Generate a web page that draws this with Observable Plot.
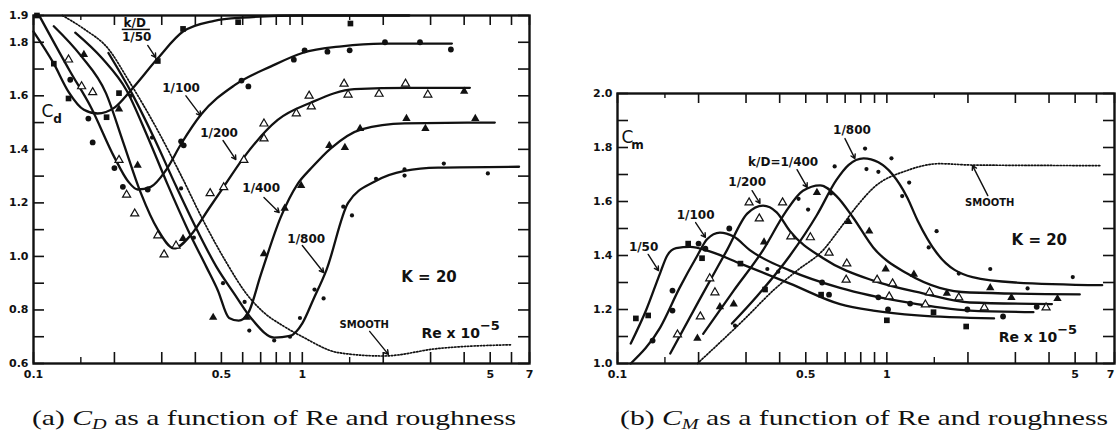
<!DOCTYPE html>
<html><head><meta charset="utf-8">
<script src="https://cdn.jsdelivr.net/npm/d3@7"></script>
<script src="https://cdn.jsdelivr.net/npm/@observablehq/plot@0.6"></script>
<style>
body{margin:0;background:#fff;}
#wrap{position:relative;width:1116px;height:437px;overflow:hidden;background:#fff;}
#a{position:absolute;left:0;top:0;}
#b{position:absolute;left:560px;top:0;}
.cap{position:absolute;top:405px;font-family:"Liberation Serif","DejaVu Serif",serif;font-size:22px;white-space:nowrap;color:#111;transform-origin:left top;}
.cap sub{font-size:15px;vertical-align:-4px;line-height:0;}
</style></head><body>
<div id="wrap"><div id="a"></div><div id="b"></div>
<div class="cap" id="capA">(a) <i>C</i><sub><i>D</i></sub> as a function of Re and roughness</div>
<div class="cap" id="capB">(b) <i>C</i><sub><i>M</i></sub> as a function of Re and roughness</div>
</div>
<script>
// ---------- shared tick lists ----------
const xTicksLong = [0.1,0.2,0.3,0.4,0.5,0.6,0.7,0.8,0.9,1,2,3,4,5,6,7];
const xTicksShort = [0.15,1.5];
const xTickLabels = [0.1,0.5,1,5];
const xEndLabel = [7];
const yTicksA = [0.6,0.7,0.8,0.9,1.0,1.1,1.2,1.3,1.4,1.5,1.6,1.7,1.8,1.9];
const yTickLabelsA = [0.6,0.8,1.0,1.2,1.4,1.6,1.8,1.9];
const yTicksB = [1.0,1.1,1.2,1.3,1.4,1.5,1.6,1.7,1.8,1.9,2.0];
const yTickLabelsB = [1.0,1.2,1.4,1.6,1.8,2.0];

// ---------- panel (a): Cd curves [Re x 1e-5, Cd] ----------
const cd50 = [[0.1,1.84],[0.119,1.72],[0.135,1.615],[0.154,1.548],[0.173,1.534],[0.2,1.556],[0.23,1.62],[0.29,1.74],[0.36,1.84],[0.47,1.88],[0.6,1.892],[1.0,1.9],[2.5,1.9]];
const cd100 = [[0.105,1.9],[0.137,1.69],[0.163,1.56],[0.2,1.37],[0.225,1.28],[0.244,1.25],[0.273,1.26],[0.31,1.32],[0.354,1.42],[0.42,1.53],[0.56,1.64],[0.765,1.71],[1.0,1.76],[1.4,1.785],[2.0,1.795],[3.6,1.795]];
const cd200 = [[0.119,1.86],[0.15,1.75],[0.186,1.61],[0.215,1.43],[0.25,1.24],[0.29,1.10],[0.333,1.03],[0.385,1.08],[0.45,1.18],[0.51,1.26],[0.606,1.37],[0.81,1.51],[1.08,1.575],[1.56,1.625],[2.5,1.63],[4.2,1.63]];
const cd400 = [[0.143,1.836],[0.18,1.74],[0.222,1.62],[0.265,1.45],[0.315,1.27],[0.375,1.10],[0.44,0.96],[0.485,0.873],[0.534,0.77],[0.58,0.76],[0.63,0.79],[0.70,0.93],[0.83,1.145],[0.96,1.27],[1.08,1.33],[1.28,1.405],[1.66,1.475],[2.4,1.497],[5.2,1.50]];
const cd800 = [[0.19,1.76],[0.232,1.61],[0.28,1.445],[0.34,1.26],[0.41,1.09],[0.48,0.96],[0.557,0.862],[0.65,0.765],[0.786,0.697],[0.9,0.703],[1.0,0.75],[1.1,0.84],[1.23,0.95],[1.48,1.2],[1.86,1.28],[2.4,1.32],[3.2,1.332],[6.4,1.335]];
const cdSmooth = [[0.128,1.9],[0.154,1.85],[0.19,1.775],[0.225,1.66],[0.29,1.47],[0.355,1.30],[0.43,1.13],[0.52,0.98],[0.62,0.86],[0.72,0.79],[0.85,0.74],[1.0,0.70],[1.37,0.64],[2.0,0.628],[3.2,0.656],[6.0,0.67]];

// Cd measured points
const cdPts50 = [[0.103,1.9],[0.119,1.72],[0.135,1.59],[0.187,1.52],[0.208,1.61],[0.29,1.73],[0.36,1.85],[0.577,1.875],[1.51,1.87]];
const cdPts100 = [[0.137,1.66],[0.16,1.515],[0.166,1.426],[0.2,1.33],[0.215,1.26],[0.266,1.25],[0.354,1.43],[0.362,1.415],[0.594,1.657],[0.63,1.635],[0.93,1.735],[1.02,1.77],[1.24,1.765],[1.5,1.77],[2.03,1.80],[2.74,1.80],[3.57,1.773]];
const cdPts200 = [[0.135,1.735],[0.151,1.635],[0.166,1.613],[0.208,1.36],[0.222,1.23],[0.238,1.16],[0.29,1.078],[0.306,1.007],[0.339,1.04],[0.454,1.236],[0.51,1.258],[0.606,1.36],[0.72,1.44],[0.72,1.496],[0.95,1.534],[1.08,1.56],[1.06,1.6],[1.43,1.645],[1.48,1.604],[1.93,1.607],[2.42,1.645],[2.93,1.604]];
const cdPts400 = [[0.154,1.754],[0.208,1.55],[0.244,1.34],[0.36,1.067],[0.466,0.772],[0.62,0.772],[0.72,1.01],[0.86,1.18],[0.99,1.265],[1.26,1.414],[1.44,1.407],[1.64,1.478],[2.44,1.515],[2.87,1.478],[4.4,1.515],[4.0,1.617]];
const cdPts800 = [[0.23,1.60],[0.276,1.444],[0.354,1.254],[0.395,1.07],[0.507,0.90],[0.61,0.83],[0.635,0.723],[0.786,0.686],[0.9,0.70],[0.98,0.77],[1.11,0.876],[1.2,0.843],[1.42,1.186],[1.53,1.153],[1.88,1.29],[2.4,1.325],[2.4,1.302],[3.36,1.347],[4.9,1.31]];

// ---------- panel (b): Cm curves ----------
const cm50 = [[0.112,1.074],[0.128,1.2],[0.144,1.335],[0.153,1.40],[0.165,1.427],[0.186,1.432],[0.22,1.415],[0.286,1.37],[0.437,1.296],[0.67,1.22],[0.89,1.196],[1.3,1.178],[2.5,1.167]];
const cm100 = [[0.112,1.0],[0.144,1.133],[0.17,1.28],[0.198,1.40],[0.215,1.46],[0.24,1.485],[0.27,1.47],[0.31,1.42],[0.437,1.344],[0.67,1.28],[1.19,1.226],[2.03,1.196],[3.5,1.19]];
const cm200 = [[0.157,1.037],[0.2,1.23],[0.255,1.42],[0.303,1.555],[0.347,1.585],[0.39,1.56],[0.437,1.49],[0.58,1.39],[0.89,1.307],[1.36,1.26],[2.03,1.226],[4.1,1.22]];
const cm400 = [[0.208,1.11],[0.27,1.27],[0.347,1.42],[0.42,1.56],[0.488,1.64],[0.565,1.66],[0.65,1.62],[0.75,1.54],[0.89,1.43],[1.19,1.333],[1.57,1.28],[2.03,1.263],[5.2,1.256]];
const cm800 = [[0.266,1.148],[0.33,1.25],[0.437,1.40],[0.55,1.55],[0.65,1.68],[0.72,1.735],[0.82,1.76],[0.93,1.745],[1.05,1.70],[1.19,1.615],[1.3,1.53],[1.53,1.41],[2.08,1.32],[3.0,1.30],[6.3,1.29]];
const cmSmooth = [[0.198,1.0],[0.3,1.17],[0.378,1.27],[0.464,1.344],[0.58,1.42],[0.67,1.5],[0.77,1.58],[0.89,1.65],[1.19,1.715],[1.57,1.74],[2.08,1.735],[6.2,1.733]];

const cmPts50 = [[0.117,1.167],[0.13,1.178],[0.183,1.444],[0.206,1.39],[0.286,1.37],[0.353,1.274],[0.57,1.255],[1.0,1.16],[1.49,1.19],[1.97,1.137]];
const cmPts100 = [[0.135,1.085],[0.16,1.196],[0.16,1.27],[0.2,1.444],[0.212,1.425],[0.26,1.5],[0.575,1.30],[0.61,1.255],[0.93,1.245],[1.01,1.2],[1.22,1.222],[1.99,1.2],[2.7,1.174],[3.6,1.21]];
const cmPts200 = [[0.167,1.107],[0.203,1.174],[0.22,1.315],[0.23,1.263],[0.308,1.596],[0.336,1.537],[0.41,1.596],[0.44,1.47],[0.52,1.467],[0.61,1.41],[0.71,1.37],[0.706,1.31],[0.92,1.31],[1.05,1.296],[1.02,1.248],[1.39,1.218],[1.44,1.263],[1.85,1.244],[2.3,1.207],[3.9,1.207]];
const cmPts400 = [[0.198,1.093],[0.24,1.21],[0.27,1.22],[0.35,1.45],[0.55,1.633],[0.72,1.526],[0.86,1.49],[0.99,1.35],[1.26,1.33],[1.67,1.26],[2.42,1.28],[2.9,1.244],[4.3,1.24]];
const cmPts800 = [[0.273,1.14],[0.36,1.35],[0.395,1.34],[0.47,1.61],[0.51,1.57],[0.62,1.63],[0.64,1.73],[0.83,1.796],[0.84,1.72],[0.93,1.71],[1.04,1.76],[1.21,1.67],[1.14,1.62],[1.53,1.49],[1.43,1.43],[1.85,1.333],[2.42,1.35],[3.33,1.278],[4.9,1.32]];

// ---------- annotations ----------
const curveLabelsA = [[0.238,1.870,"k/D"],[0.242,1.818,"1/50"],[0.354,1.627,"1/100"],[0.49,1.459,"1/200"],[0.703,1.254,"1/400"],[1.034,1.063,"1/800"]];
const fracBarA = [[0.213,1.848,0.271,1.848]];
const arrowsA = [[0.266,1.788,0.285,1.743],[0.369,1.60,0.419,1.526],[0.507,1.433,0.566,1.362],[0.72,1.22,0.82,1.164],[1.0,1.041,1.2,0.94],[1.78,0.72,2.09,0.634]];
const kLabelA = [[2.96,0.921,"K = 20"]];
const smoothLabelA = [[1.70,0.746,"SMOOTH"]];
const reLabelA = [[4.58,0.712,"Re x 10","−5"]];
const coefLabelA = [[0.1147,1.541,"C","d"]];

const curveLabelsB = [[0.125,1.43,"1/50"],[0.195,1.548,"1/100"],[0.303,1.67,"1/200"],[0.412,1.744,"k/D=1/400"],[0.742,1.863,"1/800"]];
const arrowsB = [[0.13,1.404,0.142,1.344],[0.195,1.522,0.212,1.467],[0.316,1.64,0.338,1.593],[0.464,1.718,0.506,1.652],[0.699,1.833,0.761,1.759],[2.37,1.622,2.08,1.733]];
const kLabelB = [[3.68,1.456,"K = 20"]];
const smoothLabelB = [[2.41,1.596,"SMOOTH"]];
const reLabelB = [[4.29,1.096,"Re x 10","−5"]];
const coefLabelB = [[0.1108,1.837,"C","m"]];

const ink = "#111";
const toRows = (k, pts) => pts.map(([x,y]) => ({k, x, y}));

function panel({width, mL, mR, mT, mB, yDomain, yTicks, yLabels, curves, smooth, pts, curveLabels, arrows, fracBar, kLabel, smoothLabel, reLabel, coefLabel, endAnchor}) {
  const height = 385;
  const iw = width - mL - mR, ih = height - mT - mB;
  const lines = curves.flatMap(([k, c]) => toRows(k, c));
  const P = (a) => a.map(([x,y]) => ({x,y}));
  return Plot.plot({
    width, height, marginLeft: mL, marginRight: mR, marginTop: mT, marginBottom: mB,
    style: {fontFamily: "'DejaVu Sans', sans-serif", fontSize: "11px", fontWeight: "bold", background: "transparent", color: ink, overflow: "visible"},
    x: {type: "log", domain: [0.1, 7], axis: null},
    y: {domain: yDomain},
    marks: [
      Plot.tickX(xTicksLong, {x: d => d, insetTop: ih - 11, stroke: ink, strokeWidth: 1.6}),
      Plot.tickX(xTicksLong, {x: d => d, insetBottom: ih - 10, stroke: ink, strokeWidth: 1.6}),
      Plot.tickX(xTicksShort, {x: d => d, insetTop: ih - 6, stroke: ink, strokeWidth: 1.4}),
      Plot.tickX(xTicksShort, {x: d => d, insetBottom: ih - 5, stroke: ink, strokeWidth: 1.4}),
      Plot.tickY(yTicks, {y: d => d, insetRight: iw - 11, stroke: ink, strokeWidth: 1.6}),
      Plot.tickY(yTicks, {y: d => d, insetLeft: iw - 11, stroke: ink, strokeWidth: 1.6}),
      Plot.text(xTickLabels, {x: d => d, frameAnchor: "bottom", dy: 14, text: d => String(d), fontSize: 11, fill: ink}),
      Plot.text(xEndLabel, {x: d => d, frameAnchor: "bottom", dy: 14, text: d => String(d), textAnchor: endAnchor, fontSize: 11, fill: ink}),
      Plot.axisY({ticks: yLabels, tickFormat: d3.format(".1f"), tickSize: 0, tickPadding: 5, label: null, fontSize: 11}),
      Plot.line(toRows("s", smooth), {x: "x", y: "y", curve: "monotone-x", stroke: ink, strokeWidth: 1.7, strokeDasharray: "1.4,1.8"}),
      Plot.line(lines, {x: "x", y: "y", z: "k", curve: "monotone-x", stroke: ink, strokeWidth: 2.3}),
      Plot.dot(P(pts[0]), {x: "x", y: "y", symbol: "square", r: 3.2, fill: ink}),
      Plot.dot(P(pts[1]), {x: "x", y: "y", r: 2.9, fill: ink}),
      Plot.dot(P(pts[2]), {x: "x", y: "y", symbol: "triangle", r: 3, fill: "white", stroke: ink, strokeWidth: 1.2}),
      Plot.dot(P(pts[3]), {x: "x", y: "y", symbol: "triangle", r: 3.1, fill: ink}),
      Plot.dot(P(pts[4]), {x: "x", y: "y", r: 2.1, fill: ink}),
      Plot.text(curveLabels, {x: d => d[0], y: d => d[1], text: d => d[2], fontSize: 12, fill: ink}),
      fracBar ? Plot.link(fracBar, {x1: d => d[0], y1: d => d[1], x2: d => d[2], y2: d => d[3], stroke: ink, strokeWidth: 1.5}) : null,
      Plot.arrow(arrows, {x1: d => d[0], y1: d => d[1], x2: d => d[2], y2: d => d[3], stroke: ink, strokeWidth: 1.4, headLength: 5}),
      Plot.text(kLabel, {x: d => d[0], y: d => d[1], text: d => d[2], fontSize: 15, fill: ink}),
      Plot.text(smoothLabel, {x: d => d[0], y: d => d[1], text: d => d[2], fontSize: 10, fill: ink}),
      Plot.text(reLabel, {x: d => d[0], y: d => d[1], text: d => d[2], textAnchor: "end", fontSize: 14, fill: ink}),
      Plot.text(reLabel, {x: d => d[0], y: d => d[1], text: d => d[3], textAnchor: "start", dy: -8, fontSize: 13, fill: ink}),
      Plot.text(coefLabel, {x: d => d[0], y: d => d[1], text: d => d[2], dx: -2, fontSize: 17, fontWeight: "normal", fill: ink}),
      Plot.text(coefLabel, {x: d => d[0], y: d => d[1], text: d => d[3], dx: 8, dy: 8, fontSize: 12, fill: ink}),
      Plot.frame({stroke: ink, strokeWidth: 2.4})
    ]
  });
}

document.getElementById("a").append(panel({
  width: 560, mL: 33, mR: 31, mT: 15, mB: 22, yDomain: [0.6, 1.9], yTicks: yTicksA, yLabels: yTickLabelsA,
  curves: [["50", cd50], ["100", cd100], ["200", cd200], ["400", cd400], ["800", cd800]], smooth: cdSmooth,
  pts: [cdPts50, cdPts100, cdPts200, cdPts400, cdPts800], endAnchor: "middle",
  curveLabels: curveLabelsA, arrows: arrowsA, fracBar: fracBarA, kLabel: kLabelA, smoothLabel: smoothLabelA, reLabel: reLabelA, coefLabel: coefLabelA
}));
document.getElementById("b").append(panel({
  width: 556, mL: 57, mR: 2, mT: 93, mB: 22, yDomain: [1.0, 2.0], yTicks: yTicksB, yLabels: yTickLabelsB,
  curves: [["50", cm50], ["100", cm100], ["200", cm200], ["400", cm400], ["800", cm800]], smooth: cmSmooth,
  pts: [cmPts50, cmPts100, cmPts200, cmPts400, cmPts800], endAnchor: "end",
  curveLabels: curveLabelsB, arrows: arrowsB, fracBar: null, kLabel: kLabelB, smoothLabel: smoothLabelB, reLabel: reLabelB, coefLabel: coefLabelB
}));

// captions: fit to the reference widths
function fit(id, left, target) {
  const el = document.getElementById(id);
  el.style.left = left + "px";
  const w = el.getBoundingClientRect().width;
  el.style.transform = `scaleX(${target / w})`;
}
fit("capA", 32, 484);
fit("capB", 620, 488);
</script>
</body></html>
